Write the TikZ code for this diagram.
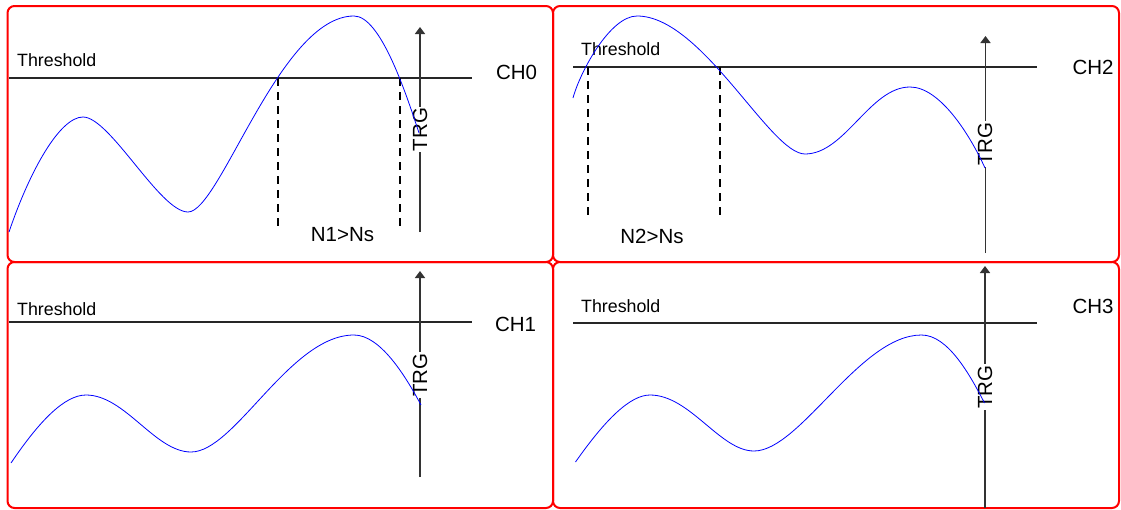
\documentclass[tikz,border=0pt]{standalone}
\usepackage{fontspec}
\setmainfont{Liberation Sans}
\usetikzlibrary{arrows.meta}
\begin{document}
\begin{tikzpicture}[x=1pt,y=-1pt,
 panel/.style={draw=red, line width=2pt, rounded corners=7pt},
 thr/.style={draw=black!85, line width=1.2pt},
 sig/.style={draw=blue, line width=0.8pt},
 dashln/.style={draw=black, line width=2pt, dash pattern=on 8pt off 6pt},
 trgarrow/.style={draw=black!80, line width=1.6pt, -{Triangle[width=10pt,length=7pt]}},
 lbl/.style={font=\fontsize{17.8}{20}\selectfont, inner sep=0pt},
 big/.style={font=\fontsize{20.5}{24}\selectfont, inner sep=0pt},
 trglbl/.style={big, fill=white, rotate=90, inner sep=1pt}]
\useasboundingbox (0,0) rectangle (1121,509);
% panels
\draw[panel] (7.5,6) rectangle (553,262);
\draw[panel] (553,6) rectangle (1119,262);
\draw[panel] (7.5,262) rectangle (553,508);
\draw[panel] (553,262) rectangle (1119,508);

% ---------- CH0 ----------
\coordinate (t0a) at (9,78); \coordinate (t0b) at (472,78);
\draw[thr] (t0a) -- (t0b);
\node[lbl, anchor=base west] (th0) at (17,66) {Threshold};
\node[big, anchor=base] (ch0) at (516.5,79.5) {CH0};
\coordinate (d0a) at (278,78); \coordinate (d0b) at (278,229);
\coordinate (d0c) at (400,78); \coordinate (d0d) at (400,229);
\draw[dashln] (d0a) -- (d0b);
\draw[dashln] (d0c) -- (d0d);
\node[big, anchor=base] (n1) at (342.5,241.5) {N1>Ns};
\coordinate (a0s) at (420,232); \coordinate (a0e) at (420,27);
\draw[trgarrow] (a0s) -- (a0e);
\node[trglbl] (trg0) at (420,129.5) {TRG};
\draw[sig] (9,232) .. controls (30,170) and (60,117) .. (83,117)
  .. controls (110,117) and (160,212) .. (188,212)
  .. controls (220,212) and (280,16) .. (354,16)
  .. controls (380,16) and (405,90) .. (419,133);

% ---------- CH2 ----------
\coordinate (t2a) at (573,67); \coordinate (t2b) at (1037,67);
\draw[thr] (t2a) -- (t2b);
\node[lbl, anchor=base west] (th2) at (581,55) {Threshold};
\node[big, anchor=base] (ch2) at (1093,74) {CH2};
\coordinate (d2a) at (588,67); \coordinate (d2b) at (588,218);
\coordinate (d2c) at (720,67); \coordinate (d2d) at (720,218);
\draw[dashln] (d2a) -- (d2b);
\draw[dashln] (d2c) -- (d2d);
\node[big, anchor=base] (n2) at (652,243) {N2>Ns};
\coordinate (a2s) at (985.5,253); \coordinate (a2e) at (985.5,36);
\draw[trgarrow] (a2s) -- (a2e);
\node[trglbl] (trg2) at (985,144) {TRG};
\draw[sig] (573,98) .. controls (580,72) and (610,16) .. (637,16)
  .. controls (702,16) and (770,154) .. (805,154)
  .. controls (845,154) and (870,87) .. (910,87)
  .. controls (940,87) and (970,135) .. (985,168);

% ---------- CH1 ----------
\coordinate (t1a) at (9,322); \coordinate (t1b) at (472,322);
\draw[thr] (t1a) -- (t1b);
\node[lbl, anchor=base west] (th1) at (17,315) {Threshold};
\node[big, anchor=base] (ch1) at (515.5,331) {CH1};
\coordinate (a1s) at (420,477); \coordinate (a1e) at (420,271);
\draw[trgarrow] (a1s) -- (a1e);
\node[trglbl] (trg1) at (420,375) {TRG};
\draw[sig] (11,463) .. controls (40,420) and (65,395) .. (86,395)
  .. controls (125,395) and (155,452) .. (191,452)
  .. controls (235,452) and (290,335) .. (354,335)
  .. controls (380,335) and (405,375) .. (421,405);

% ---------- CH3 ----------
\coordinate (t3a) at (573,323); \coordinate (t3b) at (1037,323);
\draw[thr] (t3a) -- (t3b);
\node[lbl, anchor=base west] (th3) at (581,312) {Threshold};
\node[big, anchor=base] (ch3) at (1093,313) {CH3};
\coordinate (a3s) at (985,508); \coordinate (a3e) at (985,266);
\draw[trgarrow] (a3s) -- (a3e);
\node[trglbl] (trg3) at (985,387) {TRG};
\draw[sig] (575.5,462) .. controls (605,420) and (630,395) .. (650,395)
  .. controls (690,395) and (720,451) .. (754,451)
  .. controls (800,451) and (860,335) .. (921.5,335)
  .. controls (948,335) and (970,375) .. (984.5,403);
\end{tikzpicture}
\end{document}
